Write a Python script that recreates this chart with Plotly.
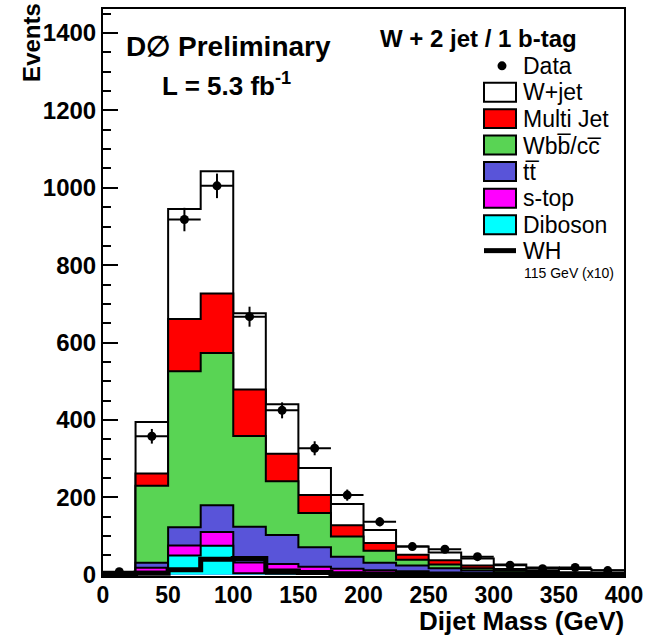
import numpy as np
import plotly.graph_objects as go

# Dijet mass binning (GeV) and axis ticks
bin_edges = [0, 25, 50, 75, 100, 125, 150, 175, 200, 225, 250, 275, 300, 325, 350, 375, 400]
x_ticks = [0, 50, 100, 150, 200, 250, 300, 350, 400]
y_ticks = [0, 200, 400, 600, 800, 1000, 1200, 1400]

# Observed events per bin
data_counts = [8, 358, 918, 1005, 667, 425, 327, 206, 137, 73, 66, 47, 25, 16, 19, 11]

# Background expectations per bin (stacked bottom to top)
diboson = [0.5, 8, 50, 75, 4, 3, 2, 1.5, 1, 1, 0.8, 0.5, 0.4, 0.3, 0.2, 0.2]
s_top = [0.5, 10, 26, 36, 28, 25, 19, 14.5, 11, 8, 5.2, 3.5, 2.6, 1.7, 1.3, 0.8]
ttbar = [1, 13, 47, 69, 92, 75, 50, 31, 19, 15, 11, 7, 4, 3, 1.5, 1]
wbb_cc = [1, 199, 403, 393, 235, 139, 89, 52, 31, 15, 10, 6, 4, 2, 2, 1]
multijet = [1, 32, 135, 154, 120, 71, 46, 29, 20, 13, 11, 7, 4, 3, 2, 2]
w_jet = [2, 133, 284, 316, 197, 128, 70, 55, 34, 21, 20, 18, 12, 9, 8, 7]

# WH signal, mH = 115 GeV, scaled by 10
wh_x10 = [0, 4, 13, 40, 42, 10, 6, 3, 2, 1, 1, 0.5, 0, 0, 0, 0]

# Component names and fill colours, bottom to top of the stack
stack_names = ["Diboson", "s-top", "tt\u0305", "Wbb\u0305/cc\u0305", "Multi Jet", "W+jet"]
stack_colors = ["#00ffff", "#ff00ff", "#5954d9", "#59d454", "#ff0000", "#ffffff"]

FONT = "Liberation Sans"

edges = np.array(bin_edges, dtype=float)
centers = 0.5 * (edges[:-1] + edges[1:])
half_width = 0.5 * (edges[1] - edges[0])

stack = np.vstack([diboson, s_top, ttbar, wbb_cc, multijet, w_jet])
cumulative = np.cumsum(stack, axis=0)


def step(vals):
    vals = list(vals)
    return vals + [vals[-1]]


fig = go.Figure()

# Draw the stack from the top level downwards so lower layers cover upper fills
for level in range(len(stack_names) - 1, -1, -1):
    fig.add_trace(go.Scatter(
        x=edges, y=step(cumulative[level]),
        mode="lines", line=dict(shape="hv", color="black", width=2),
        fill="tozeroy", fillcolor=stack_colors[level],
        name=stack_names[level], showlegend=False, hoverinfo="skip",
    ))

# WH signal outline
fig.add_trace(go.Scatter(
    x=edges, y=step(wh_x10), mode="lines",
    line=dict(shape="hv", color="black", width=5),
    showlegend=False, hoverinfo="skip",
))

# Data points with Poisson errors
fig.add_trace(go.Scatter(
    x=centers, y=data_counts, mode="markers",
    marker=dict(color="black", size=9, symbol="circle"),
    error_x=dict(type="constant", value=half_width, color="black", thickness=2, width=0),
    error_y=dict(type="data", array=np.sqrt(data_counts), color="black", thickness=2, width=0),
    showlegend=False,
))

# Plot-area geometry in pixels
W, H = 662, 642
L_PX, R_PX, T_PX, B_PX = 103, 624, 7, 576


def px(xp):
    return (xp - L_PX) / (R_PX - L_PX)


def py(yp):
    return (B_PX - yp) / (B_PX - T_PX)


shapes = []
annotations = []

# Legend title
annotations.append(dict(
    x=px(478), y=py(37), xref="paper", yref="paper", showarrow=False,
    text="W + 2 jet / 1 b-tag", xanchor="center", yanchor="middle",
    font=dict(family=FONT, size=24, color="black", weight="bold"),
))

# Data entry marker
shapes.append(dict(type="circle", xref="paper", yref="paper",
                   x0=px(497.5), x1=px(506.5), y0=py(68.5), y1=py(59.5),
                   fillcolor="black", line=dict(color="black", width=0)))

# Legend swatches, top to bottom
swatch_rows = [(stack_colors[5], 90.5), (stack_colors[4], 117), (stack_colors[3], 143.5),
               (stack_colors[2], 170), (stack_colors[1], 197), (stack_colors[0], 223.5)]
for color, yc in swatch_rows:
    shapes.append(dict(type="rect", xref="paper", yref="paper",
                       x0=px(484), x1=px(516), y0=py(yc + 9.5), y1=py(yc - 9.5),
                       fillcolor=color, line=dict(color="black", width=2)))

text_rows = [("Data", 64), (stack_names[5], 90), (stack_names[4], 117), (stack_names[3], 144),
             (stack_names[2], 171), (stack_names[1], 197), (stack_names[0], 224), ("WH", 250)]
for label, yc in text_rows:
    annotations.append(dict(
        x=px(521), y=py(yc), xref="paper", yref="paper", showarrow=False,
        text=label, xanchor="left", yanchor="middle",
        font=dict(family=FONT, size=23, color="black"),
    ))

# WH entry line
shapes.append(dict(type="line", xref="paper", yref="paper",
                   x0=px(484), x1=px(516), y0=py(249.5), y1=py(249.5),
                   line=dict(color="black", width=5)))
annotations.append(dict(
    x=px(522), y=py(272), xref="paper", yref="paper", showarrow=False,
    text="115 GeV (x10)", xanchor="left", yanchor="middle",
    font=dict(family=FONT, size=14, color="black"),
))

# Experiment labels
annotations.append(dict(
    x=px(228), y=py(45), xref="paper", yref="paper", showarrow=False,
    text="D\u2205 Preliminary", xanchor="center", yanchor="middle",
    font=dict(family=FONT, size=28, color="black", weight="bold"),
))
annotations.append(dict(
    x=px(226), y=py(83), xref="paper", yref="paper", showarrow=False,
    text="L = 5.3 fb<sup>-1</sup>", xanchor="center", yanchor="middle",
    font=dict(family=FONT, size=26, color="black", weight="bold"),
))

# Axis titles
annotations.append(dict(
    x=px(32), y=py(41), xref="paper", yref="paper", showarrow=False,
    text="Events", textangle=-90, xanchor="center", yanchor="middle",
    font=dict(family=FONT, size=24, color="black", weight="bold"),
))
annotations.append(dict(
    x=px(626), y=py(621), xref="paper", yref="paper", showarrow=False,
    text="Dijet Mass (GeV)", xanchor="right", yanchor="middle",
    font=dict(family=FONT, size=26, color="black", weight="bold"),
))

fig.update_layout(
    width=W, height=H,
    margin=dict(l=L_PX, r=W - R_PX, t=T_PX, b=H - B_PX),
    paper_bgcolor="white", plot_bgcolor="white",
    shapes=shapes, annotations=annotations, showlegend=False,
    xaxis=dict(
        range=[edges[0], edges[-1]], tickvals=x_ticks, ticks="",
        ticklabelstandoff=-3,
        showgrid=False, zeroline=False, showline=True, mirror=True,
        linecolor="black", linewidth=2,
        tickfont=dict(family=FONT, size=23, color="black", weight="bold"),
    ),
    yaxis=dict(
        range=[-3, 1462], tickvals=y_ticks, ticks="inside", ticklen=15, tickwidth=2,
        tickcolor="black",
        minor=dict(tick0=0, dtick=50, ticks="inside", ticklen=8, tickwidth=2, tickcolor="black"),
        showgrid=False, zeroline=False, showline=True, mirror=True,
        linecolor="black", linewidth=2,
        tickfont=dict(family=FONT, size=24, color="black", weight="bold"),
    ),
)

fig.write_html("out.html")
